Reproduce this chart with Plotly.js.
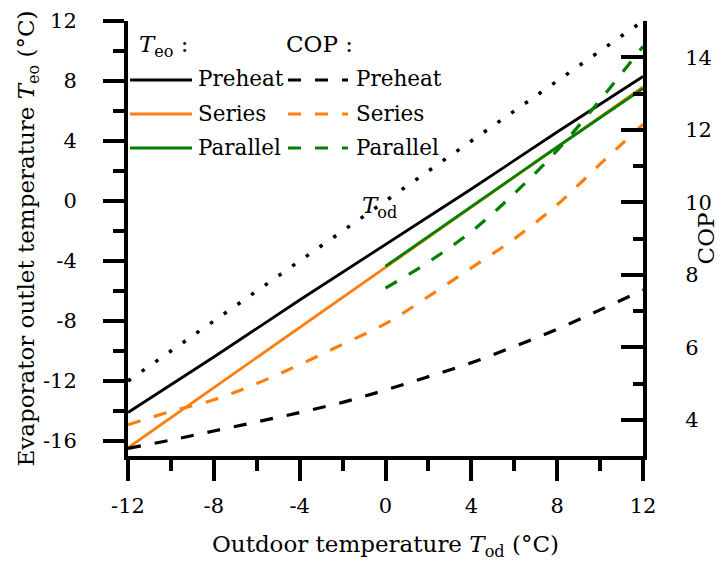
<!DOCTYPE html>
<html>
<head>
<meta charset="utf-8">
<script src="https://cdn.plot.ly/plotly-3.0.1.min.js"></script>
<style>html,body{margin:0;padding:0;background:#fff;}#chart{width:719px;height:565px;}</style>
</head>
<body>
<div id="chart"></div>
<script>
// ---- data ----
const xTeo = [-12, -8, -4, 0, 4, 8, 12];
const preheatTeo = [-14.1, -10.4, -6.6, -2.9, 0.8, 4.6, 8.3];
const seriesTeo = [-16.45, -12.45, -8.4, -4.4, -0.4, 3.6, 7.6];
const xParallel = [0, 4, 8, 12];
const parallelTeo = [-4.35, -0.35, 3.6, 7.5];
const xTod = [-12, 12];
const tod = [-12, 12];
const xCop = [-12, -10, -8, -6, -4, -2, 0, 2, 4, 6, 8, 10, 12];
const preheatCop = [3.21, 3.44, 3.69, 3.94, 4.2, 4.48, 4.82, 5.19, 5.57, 6.02, 6.5, 7.03, 7.58];
const seriesCop = [3.86, 4.23, 4.55, 5.0, 5.52, 6.08, 6.65, 7.4, 8.19, 8.99, 9.93, 11.05, 12.15];
const xParallelCop = [0, 2, 4, 6, 8, 10, 12];
const parallelCop = [7.63, 8.35, 9.19, 10.24, 11.43, 12.82, 14.3];

const xTickVals = [-12, -8, -4, 0, 4, 8, 12];
const xTickText = ['-12', '-8', '-4', '0', '4', '8', '12'];
const yTickVals = [-16, -12, -8, -4, 0, 4, 8, 12];
const yTickText = ['-16', '-12', '-8', '-4', '0', '4', '8', '12'];
const copTickVals = [4, 6, 8, 10, 12, 14];
const copTickText = ['4', '6', '8', '10', '12', '14'];
const seriesNames = ['Preheat', 'Series', 'Parallel'];

// ---- styles ----
const C = {pre: '#000000', ser: '#ff7f0e', par: '#008000'};
const DASH = '13px,14px';
const FONT = 'DejaVu Serif';
const TICK = 21, LEG = 21.5, TITLE = 23;

const traces = [
  {x: xTod, y: tod, mode: 'lines', line: {color: '#000', width: 3.5, dash: '3.5px,13.2px'}, showlegend: false},
  {x: xCop, y: preheatCop, yaxis: 'y2', mode: 'lines', line: {color: C.pre, width: 3.2, dash: DASH, shape: 'spline'}, showlegend: false},
  {x: xCop, y: seriesCop, yaxis: 'y2', mode: 'lines', line: {color: C.ser, width: 3.2, dash: DASH, shape: 'spline'}, showlegend: false},
  {x: xParallelCop, y: parallelCop, yaxis: 'y2', mode: 'lines', line: {color: C.par, width: 3.2, dash: DASH, shape: 'spline'}, showlegend: false},
  {x: xTeo, y: preheatTeo, mode: 'lines', line: {color: C.pre, width: 2.8}, showlegend: false},
  {x: xTeo, y: seriesTeo, mode: 'lines', line: {color: C.ser, width: 2.8}, showlegend: false},
  {x: xParallel, y: parallelTeo, mode: 'lines', line: {color: C.par, width: 2.8}, showlegend: false}
];

// legend built by hand (pixel -> paper helpers)
const L = 128, R = 643, T = 21, B = 456;
const px = v => (v - L) / (R - L);
const py = v => (B - v) / (B - T);
const rows = [80, 114, 148];
const cols = [C.pre, C.ser, C.par];
const shapes = [], annotations = [];
const legFont = {family: FONT, size: LEG, color: '#000'};
rows.forEach((r, i) => {
  shapes.push({type: 'line', xref: 'paper', yref: 'paper', x0: px(130), x1: px(192), y0: py(r), y1: py(r), line: {color: cols[i], width: 2.8}});
  shapes.push({type: 'line', xref: 'paper', yref: 'paper', x0: px(288), x1: px(348), y0: py(r), y1: py(r), line: {color: cols[i], width: 3.2, dash: DASH}});
  annotations.push({xref: 'paper', yref: 'paper', x: px(196), y: py(r - 1), xanchor: 'left', yanchor: 'middle', showarrow: false, text: seriesNames[i], font: legFont});
  annotations.push({xref: 'paper', yref: 'paper', x: px(354), y: py(r - 1), xanchor: 'left', yanchor: 'middle', showarrow: false, text: seriesNames[i], font: legFont});
});
annotations.push({xref: 'paper', yref: 'paper', x: px(137), y: py(46), xanchor: 'left', yanchor: 'middle', showarrow: false, text: '<i>T</i><sub>eo</sub> :', font: {family: FONT, size: 23, color: '#000'}});
annotations.push({xref: 'paper', yref: 'paper', x: px(284), y: py(44), xanchor: 'left', yanchor: 'middle', showarrow: false, text: 'COP :', font: {family: FONT, size: 23, color: '#000'}});
annotations.push({xref: 'x', yref: 'y', x: -1.2, y: -0.4, xanchor: 'left', yanchor: 'middle', showarrow: false, text: '<i>T</i><sub>od</sub>', font: {family: FONT, size: 23, color: '#000'}});

const axBase = {showgrid: false, zeroline: false, showline: true, linecolor: '#000', linewidth: 4, tickcolor: '#000', tickwidth: 4,
  tickfont: {family: FONT, size: TICK, color: '#000'}};

const layout = {
  width: 719, height: 565,
  margin: {l: L, r: 719 - R, t: T, b: 565 - B, pad: 0},
  paper_bgcolor: '#fff', plot_bgcolor: '#fff',
  showlegend: false,
  font: {family: FONT, color: '#000'},
  xaxis: Object.assign({}, axBase, {
    range: [-12, 12], tickmode: 'array', tickvals: xTickVals, ticktext: xTickText,
    ticks: 'outside', ticklen: 21, ticklabelstandoff: 7,
    minor: {tickmode: 'array', tickvals: [-10, -6, -2, 2, 6, 10], ticks: 'outside', ticklen: 11, tickwidth: 4, tickcolor: '#000'},
    title: {text: 'Outdoor temperature <i>T</i><sub>od</sub> (°C)', font: {family: FONT, size: TITLE, color: '#000'}, standoff: 20}
  }),
  xaxis2: {overlaying: 'x', side: 'top', range: [-12, 12], showgrid: false, zeroline: false, showline: true, linecolor: '#000', linewidth: 4,
    tickmode: 'array', tickvals: [-10, -8, -6, -4, -2, 0, 2, 4, 6, 8, 10], ticks: 'outside', ticklen: 6, tickwidth: 1, tickcolor: '#666', showticklabels: false},
  yaxis: Object.assign({}, axBase, {
    range: [-17, 12], tickmode: 'array', tickvals: yTickVals, ticktext: yTickText,
    ticks: 'outside', ticklen: 21, ticklabelstandoff: 22,
    minor: {tickmode: 'array', tickvals: [-14, -10, -6, -2, 2, 6, 10], ticks: 'outside', ticklen: 11, tickwidth: 4, tickcolor: '#000'},
    title: {text: 'Evaporator outlet temperature <i>T</i><sub>eo</sub> (°C)', font: {family: FONT, size: TITLE, color: '#000'}, standoff: 0}
  }),
  yaxis2: Object.assign({}, axBase, {
    overlaying: 'y', side: 'right', range: [3, 15], tickmode: 'array', tickvals: copTickVals, ticktext: copTickText,
    ticks: 'inside', ticklen: 22, ticklabelstandoff: 34,
    minor: {tickmode: 'array', tickvals: [3, 5, 7, 9, 11, 13, 15], ticks: 'inside', ticklen: 10, tickwidth: 4, tickcolor: '#000'},
    title: {text: 'COP', font: {family: FONT, size: TITLE, color: '#000'}, standoff: 8}
  }),
  shapes: shapes,
  annotations: annotations
};

Plotly.newPlot('chart', traces, layout, {staticPlot: true, displayModeBar: false});
</script>
</body>
</html>
